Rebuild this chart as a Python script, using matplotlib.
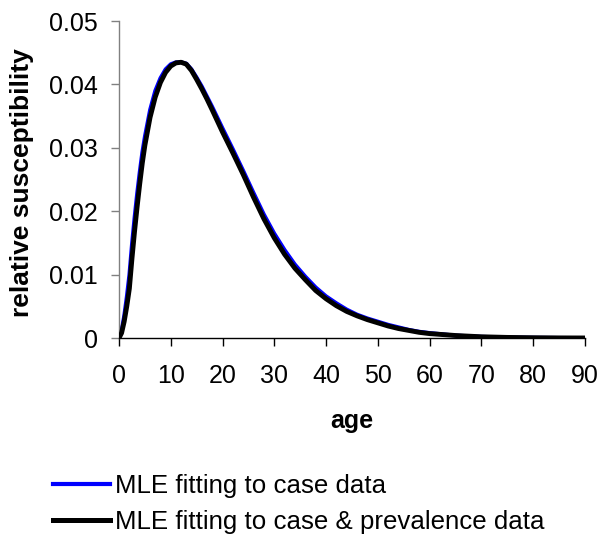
import matplotlib
matplotlib.use("Agg")
import matplotlib.pyplot as plt
from matplotlib.lines import Line2D

plt.rcParams['font.family'] = ['Liberation Sans', 'DejaVu Sans']

age = [0, 0.5, 1, 1.5, 2, 2.5, 3, 3.5, 4, 4.5, 5, 6, 7, 8, 9, 10, 11, 12, 13,
       14, 15, 16, 17, 18, 20, 22, 24, 26, 28, 30, 32, 34, 36, 38, 40, 42,
       44, 46, 48, 50, 52, 54, 56, 58, 60, 65, 70, 75, 80, 85, 90]

case_only = [0, 0.0012, 0.0035, 0.0065, 0.0100, 0.0148, 0.0190, 0.0228, 0.0262,
             0.0293, 0.0318, 0.0360, 0.0390, 0.0410, 0.0424, 0.0432, 0.0435,
             0.0435, 0.0433, 0.0424, 0.0411, 0.0397, 0.0381, 0.0365, 0.0331,
             0.0298, 0.0264, 0.0229, 0.0195, 0.0165, 0.0139, 0.0116, 0.0097,
             0.0080, 0.0066, 0.0055, 0.0045, 0.0037, 0.0031, 0.0026, 0.0021,
             0.0017, 0.0013, 0.0010, 0.0008, 0.0004, 0.0002, 0.0001, 0.00005,
             0.00002, 0.00001]

case_prev = [0, 0.0008, 0.0026, 0.0050, 0.0078, 0.0125, 0.0168, 0.0207, 0.0243,
             0.0276, 0.0304, 0.0348, 0.0380, 0.0403, 0.0419, 0.0429, 0.0434,
             0.0435, 0.0432, 0.0422, 0.0408, 0.0393, 0.0377, 0.0360, 0.0325,
             0.0292, 0.0258, 0.0222, 0.0188, 0.0158, 0.0132, 0.0110, 0.0092,
             0.0075, 0.0062, 0.0051, 0.0042, 0.0035, 0.0029, 0.0024, 0.0019,
             0.0015, 0.0012, 0.0009, 0.0007, 0.0004, 0.0002, 0.0001, 0.00005,
             0.00002, 0.00001]

xticks = [0, 10, 20, 30, 40, 50, 60, 70, 80, 90]
yticks = [0, 0.01, 0.02, 0.03, 0.04, 0.05]
ytick_labels = ['0', '0.01', '0.02', '0.03', '0.04', '0.05']
labels = ['MLE fitting to case data', 'MLE fitting to case & prevalence data']

fig = plt.figure(figsize=(6.01, 5.40), dpi=100)
ax = fig.add_axes([0.198, 0.374, 0.775, 0.587])

ax.plot(age, case_only, color='#0000ff', lw=2.8, solid_capstyle='round',
        solid_joinstyle='round', zorder=2)
ax.plot(age, case_prev, color='black', lw=3.5, solid_capstyle='round',
        solid_joinstyle='round', zorder=3)

ax.set_xlim(0, 90)
ax.set_ylim(0, 0.05)
ax.set_xticks(xticks)
ax.set_yticks(yticks)
ax.set_yticklabels(ytick_labels)
ax.tick_params(axis='both', labelsize=18, length=6, width=1, direction='out')
ax.tick_params(axis='x', pad=13, color='black')
ax.tick_params(axis='y', pad=9, color='#808080')

for s in ['top', 'right']:
    ax.spines[s].set_visible(False)
ax.spines['left'].set_color('#808080')
ax.spines['bottom'].set_color('black')
ax.spines['left'].set_linewidth(1)
ax.spines['bottom'].set_linewidth(1)

ax.set_xlabel('age', fontsize=18, fontweight='bold', labelpad=15)
ax.set_ylabel('relative susceptibility', fontsize=19, fontweight='bold')
ax.yaxis.set_label_coords(-0.183, 0.49)

handles = [Line2D([], [], color='#0000ff', lw=3.0),
           Line2D([], [], color='black', lw=3.6)]
fig.legend(handles, labels, loc='upper left', bbox_to_anchor=(0.088, 0.123),
           bbox_transform=fig.transFigure, frameon=False, fontsize=18.6,
           handlelength=2.2, handletextpad=0.2, labelspacing=0.5,
           borderpad=0, borderaxespad=0)

fig.savefig('out.png', dpi=100)
